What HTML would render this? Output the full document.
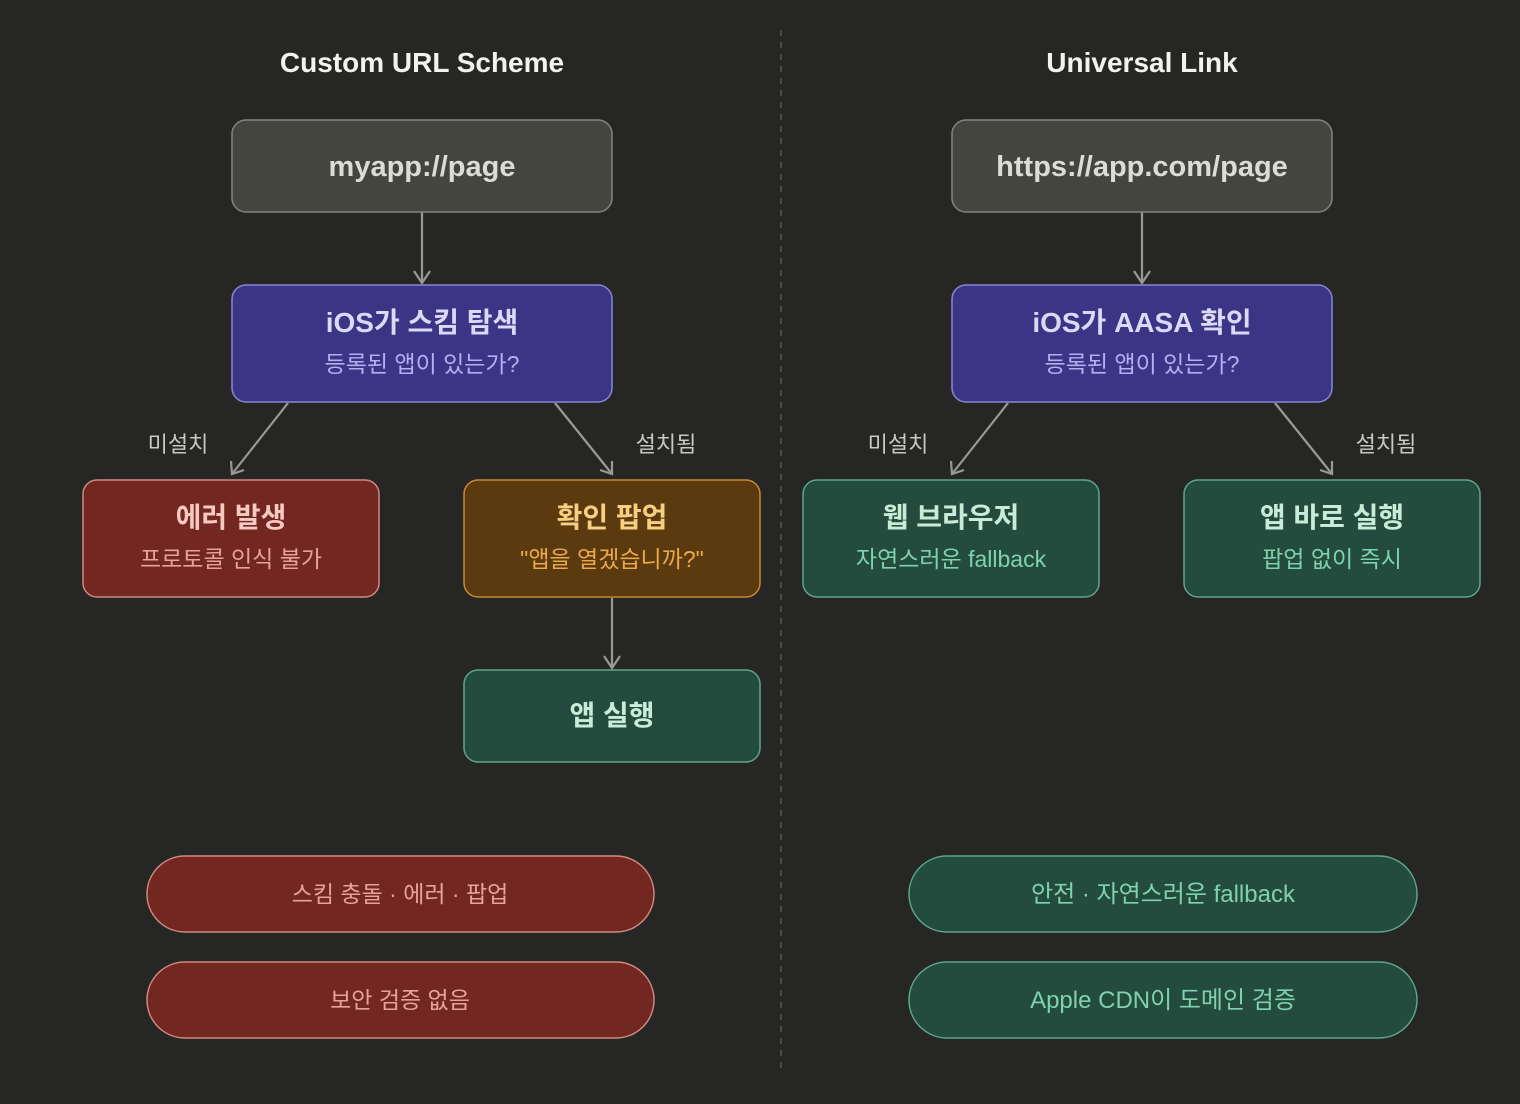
<!DOCTYPE html>
<html><head><meta charset="utf-8"><style>
html,body{margin:0;padding:0;background:#262624;}
svg{display:block}
text{font-family:"Liberation Sans","Noto Sans CJK KR",sans-serif;text-anchor:middle}
</style></head><body>
<svg width="1520" height="1104" viewBox="0 0 1520 1104" xmlns="http://www.w3.org/2000/svg">
<defs>
<marker id="a" viewBox="0 0 12 12" refX="6" refY="10" markerWidth="12" markerHeight="12" orient="auto-start-reverse" markerUnits="userSpaceOnUse">
</marker>
</defs>
<rect width="1520" height="1104" fill="#262624"/>
<line x1="781" y1="30" x2="781" y2="1070" stroke="#4a4a46" stroke-width="2" stroke-dasharray="6,6"/>
<text x="422" y="72" font-size="28" font-weight="bold" fill="#f2f2ee">Custom URL Scheme</text>
<text x="1142" y="72" font-size="28" font-weight="bold" fill="#f2f2ee">Universal Link</text>

<g stroke="#9a9a92" stroke-width="2.2" fill="none">
<line x1="422" y1="212" x2="422" y2="283"/><polyline points="414,271 422,283 430,271"/>
<line x1="288" y1="403" x2="232" y2="474"/><polyline points="231,461 232,474 244,470"/>
<line x1="555" y1="403" x2="612" y2="474"/><polyline points="600,470 612,474 612,461"/>
<line x1="612" y1="598" x2="612" y2="668"/><polyline points="604,656 612,668 620,656"/>
<line x1="1142" y1="212" x2="1142" y2="283"/><polyline points="1134,271 1142,283 1150,271"/>
<line x1="1008" y1="403" x2="952" y2="474"/><polyline points="951,461 952,474 964,470"/>
<line x1="1275" y1="403" x2="1332" y2="474"/><polyline points="1320,470 1332,474 1332,461"/>
</g>
<text x="178" y="452" font-size="22" fill="#c8c8c0">미설치</text>
<text x="666" y="452" font-size="22" fill="#c8c8c0">설치됨</text>
<text x="898" y="452" font-size="22" fill="#c8c8c0">미설치</text>
<text x="1386" y="452" font-size="22" fill="#c8c8c0">설치됨</text>

<!-- grey -->
<rect x="232" y="120" width="380" height="92" rx="14" fill="#45453f" stroke="#85857d" stroke-width="1.5"/>
<text x="422" y="176" font-size="29" font-weight="bold" fill="#dcdcd4">myapp://page</text>
<rect x="952" y="120" width="380" height="92" rx="14" fill="#45453f" stroke="#85857d" stroke-width="1.5"/>
<text x="1142" y="176" font-size="29" font-weight="bold" fill="#dcdcd4">https://app.com/page</text>

<!-- purple -->
<rect x="232" y="285" width="380" height="117" rx="14" fill="#3b3586" stroke="#8a85d6" stroke-width="1.5"/>
<text x="422" y="332" font-size="28" font-weight="bold" fill="#dcd9f6">iOS가 스킴 탐색</text>
<text x="422" y="372" font-size="23" fill="#b4aff0">등록된 앱이 있는가?</text>
<rect x="952" y="285" width="380" height="117" rx="14" fill="#3b3586" stroke="#8a85d6" stroke-width="1.5"/>
<text x="1142" y="332" font-size="28" font-weight="bold" fill="#dcd9f6">iOS가 AASA 확인</text>
<text x="1142" y="372" font-size="23" fill="#b4aff0">등록된 앱이 있는가?</text>

<!-- red -->
<rect x="83" y="480" width="296" height="117" rx="14" fill="#722721" stroke="#cf8a80" stroke-width="1.5"/>
<text x="231" y="527" font-size="28" font-weight="bold" fill="#f6c9c1">에러 발생</text>
<text x="231" y="567" font-size="23" fill="#e6a398">프로토콜 인식 불가</text>
<!-- orange -->
<rect x="464" y="480" width="296" height="117" rx="14" fill="#5c3a10" stroke="#c98b30" stroke-width="1.5"/>
<text x="612" y="527" font-size="28" font-weight="bold" fill="#f6cf80">확인 팝업</text>
<text x="612" y="567" font-size="23" fill="#e9aa4a">"앱을 열겠습니까?"</text>
<!-- greens -->
<rect x="464" y="670" width="296" height="92" rx="14" fill="#234c3f" stroke="#5ea58a" stroke-width="1.5"/>
<text x="612" y="725" font-size="28" font-weight="bold" fill="#c9ecd9">앱 실행</text>
<rect x="803" y="480" width="296" height="117" rx="14" fill="#234c3f" stroke="#5ea58a" stroke-width="1.5"/>
<text x="951" y="527" font-size="28" font-weight="bold" fill="#c9ecd9">웹 브라우저</text>
<text x="951" y="567" font-size="23" fill="#80d1ad">자연스러운 fallback</text>
<rect x="1184" y="480" width="296" height="117" rx="14" fill="#234c3f" stroke="#5ea58a" stroke-width="1.5"/>
<text x="1332" y="527" font-size="28" font-weight="bold" fill="#c9ecd9">앱 바로 실행</text>
<text x="1332" y="567" font-size="23" fill="#80d1ad">팝업 없이 즉시</text>

<!-- pills -->
<rect x="147" y="856" width="507" height="76" rx="38" fill="#722721" stroke="#cf8a80" stroke-width="1.5"/>
<text x="400" y="902" font-size="23" fill="#e6a398">스킴 충돌 · 에러 · 팝업</text>
<rect x="147" y="962" width="507" height="76" rx="38" fill="#722721" stroke="#cf8a80" stroke-width="1.5"/>
<text x="400" y="1008" font-size="23" fill="#e6a398">보안 검증 없음</text>
<rect x="909" y="856" width="508" height="76" rx="38" fill="#234c3f" stroke="#5ea58a" stroke-width="1.5"/>
<text x="1163" y="902" font-size="24" fill="#80d1ad">안전 · 자연스러운 fallback</text>
<rect x="909" y="962" width="508" height="76" rx="38" fill="#234c3f" stroke="#5ea58a" stroke-width="1.5"/>
<text x="1163" y="1008" font-size="24" fill="#80d1ad">Apple CDN이 도메인 검증</text>
</svg>
</body></html>
